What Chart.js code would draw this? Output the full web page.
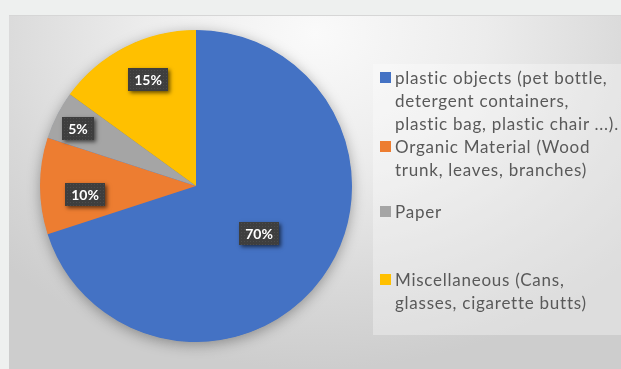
<!DOCTYPE html>
<html><head><meta charset="utf-8">
<script src="https://cdn.jsdelivr.net/npm/chart.js@4/dist/chart.umd.min.js"></script>
<style>
html,body{margin:0;padding:0;}
body{width:621px;height:369px;background:#eef0ef;position:relative;overflow:hidden;font-family:Lato,"Open Sans",sans-serif;}
#panel{position:absolute;left:9px;top:15px;width:612px;height:354px;
  background:radial-gradient(ellipse 70% 95% at 50% 5%, #fafafa 0%, #ececec 40%, #d9d9d9 75%, #cdcdcd 100%);
  border-top:1px solid #d6d6d6;box-sizing:border-box;}
#c{position:absolute;left:0;top:-1px;}
#legend{position:absolute;left:364px;top:48px;width:248px;height:271px;background:rgba(255,255,255,0.32);}
.item{position:absolute;left:0;}
.sw{position:absolute;left:7px;width:11px;height:11px;}
.txt{position:absolute;left:22px;white-space:nowrap;color:#595959;font-size:17px;letter-spacing:0.75px;line-height:23px;}
</style></head>
<body>
<div id="panel">
  <canvas id="c" width="612" height="354"></canvas>
  <div id="legend"></div>
</div>
<script>
const categories = [
  ["plastic objects (pet bottle,", "detergent containers,", "plastic bag, plastic chair ...)."],
  ["Organic Material (Wood", "trunk, leaves, branches)"],
  ["Paper"],
  ["Miscellaneous (Cans,", "glasses, cigarette butts)"]
];
const values = [70, 10, 5, 15];
const colors = ['#4472c4', '#ed7d31', '#a5a5a5', '#ffc000'];
const legendTops = [1.5, 70.5, 135.5, 203.5];
const labelRadial = [0.5, 0.71, 0.85, 0.76];
const labelShiftX = [0, 0, 0, 6];
const labelShiftY = [2, 8, 3, -1];

// legend
const leg = document.getElementById('legend');
categories.forEach((lines, i) => {
  const it = document.createElement('div');
  it.className = 'item';
  it.style.top = legendTops[i] + 'px';
  const sw = document.createElement('div');
  sw.className = 'sw'; sw.style.background = colors[i]; sw.style.top = '6px';
  const tx = document.createElement('div');
  tx.className = 'txt';
  tx.innerHTML = lines.map(l => l.replace(/&/g,'&amp;').replace(/</g,'&lt;')).join('<br>');
  it.appendChild(sw); it.appendChild(tx);
  leg.appendChild(it);
});

function dotPattern(ctx){
  const p = document.createElement('canvas'); p.width = 3; p.height = 3;
  const pc = p.getContext('2d');
  pc.fillStyle = '#3e3e3e'; pc.fillRect(0,0,3,3);
  pc.fillStyle = '#4c4c4c'; pc.fillRect(1,1,1,1);
  return ctx.createPattern(p, 'repeat');
}

const shadowPlugin = {
  id: 'pieShadow',
  beforeDatasetsDraw(chart){
    const arc = chart.getDatasetMeta(0).data[0];
    if (!arc) return;
    const ctx = chart.ctx;
    ctx.save();
    ctx.shadowColor = 'rgba(0,0,0,0.35)';
    ctx.shadowBlur = 14; ctx.shadowOffsetX = 0; ctx.shadowOffsetY = 3;
    ctx.fillStyle = '#4472c4';
    ctx.beginPath(); ctx.arc(arc.x, arc.y, arc.outerRadius - 0.5, 0, Math.PI*2); ctx.fill();
    ctx.restore();
  }
};

const boxLabels = {
  id: 'boxLabels',
  afterDatasetsDraw(chart, args, opts){
    const ctx = chart.ctx;
    const meta = chart.getDatasetMeta(0);
    const data = chart.data.datasets[0].data;
    const total = data.reduce((a,b)=>a+b,0);
    const pat = dotPattern(ctx);
    meta.data.forEach((arc, i) => {
      const mid = (arc.startAngle + arc.endAngle)/2;
      const r = arc.outerRadius * opts.radial[i];
      const px = arc.x + Math.cos(mid)*r + opts.sx[i];
      const py = arc.y + Math.sin(mid)*r + opts.sy[i];
      const text = Math.round(data[i]/total*100) + '%';
      ctx.save();
      ctx.font = 'bold 14px Lato, "Open Sans", sans-serif';
      const tw = ctx.measureText(text).width;
      const w = Math.round(tw + 12), h = 23;
      const bx = Math.round(px - w/2), by = Math.round(py - h/2);
      ctx.shadowColor = 'rgba(0,0,0,0.6)';
      ctx.shadowBlur = 4; ctx.shadowOffsetX = 2; ctx.shadowOffsetY = 2;
      ctx.fillStyle = '#3e3e3e';
      ctx.fillRect(bx, by, w, h);
      ctx.shadowColor = 'transparent';
      ctx.fillStyle = pat;
      ctx.fillRect(bx, by, w, h);
      ctx.fillStyle = '#ffffff';
      ctx.textAlign = 'center'; ctx.textBaseline = 'middle';
      ctx.fillText(text, bx + w/2, by + h/2 + 1);
      ctx.restore();
    });
  }
};

new Chart(document.getElementById('c'), {
  type: 'pie',
  data: {
    labels: categories.map(l => l.join(' ')),
    datasets: [{
      data: values,
      backgroundColor: colors,
      borderWidth: 0,
      hoverOffset: 0,
      offset: 0
    }]
  },
  options: {
    responsive: false,
    animation: false,
    events: [],
    layout: { padding: { left: 31, top: 15, right: 269, bottom: 27 } },
    plugins: {
      legend: { display: false },
      tooltip: { enabled: false },
      boxLabels: { radial: labelRadial, sx: labelShiftX, sy: labelShiftY }
    }
  },
  plugins: [shadowPlugin, boxLabels]
});
</script>
</body></html>
